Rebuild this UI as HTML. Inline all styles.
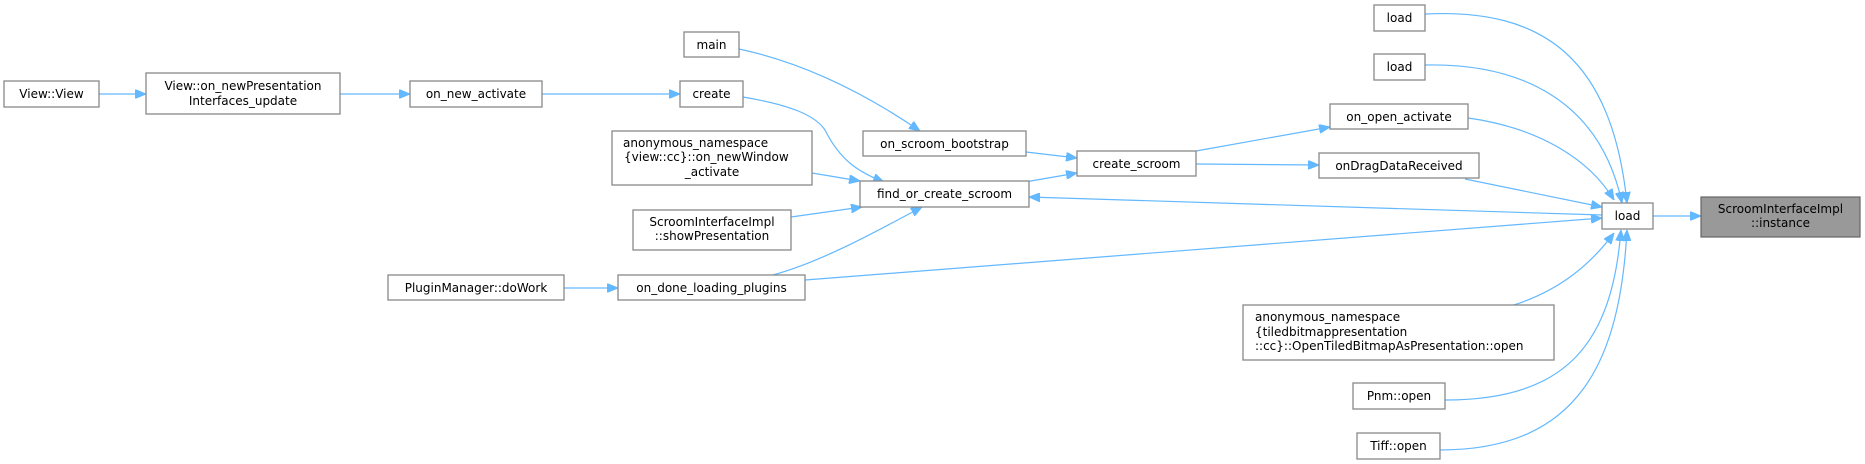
<!DOCTYPE html>
<html><head><meta charset="utf-8"><style>
html,body{margin:0;padding:0;background:#fff;}
svg{display:block;}
text{font-family:"DejaVu Sans","Liberation Sans",sans-serif;font-size:12px;fill:#000;}
.b{fill:#fff;stroke:#888;stroke-width:1.3;}
.e{fill:none;stroke:#63b8ff;stroke-width:1.2;}
</style></head><body>
<svg width="1865" height="464" viewBox="0 0 1865 464" xmlns="http://www.w3.org/2000/svg">
<defs>
<marker id="a" viewBox="0 0 11 9" refX="11" refY="4.5" markerWidth="11" markerHeight="9" markerUnits="userSpaceOnUse" orient="auto">
<path d="M0,0 L11,4.5 L0,9 z" fill="#63b8ff" stroke="#63b8ff"/>
</marker>
</defs>
<g class="e" marker-end="url(#a)">
<path d="M99,94 L146,94"/>
<path d="M340,94 L410,94"/>
<path d="M542,94 L680,94"/>
<path d="M743,97 C790,105 815,115 825,130 C840,160 858,172 884,182"/>
<path d="M739,49 C800,62 860,90 920,131"/>
<path d="M1026,152 L1077,158"/>
<path d="M812,173 L860,181"/>
<path d="M791,217 L862,207"/>
<path d="M773,275 C820,262 870,235 922,207"/>
<path d="M564,288 L618,288"/>
<path d="M1025,182 L1077,173"/>
<path d="M1196,151 L1330,127"/>
<path d="M1196,164 L1319,165"/>
<path d="M1602,215 L1029,197"/>
<path d="M805,280 L1602,218"/>
<path d="M1425,14 C1545,8 1612,60 1627,203"/>
<path d="M1425,65 C1520,63 1600,100 1622,203"/>
<path d="M1468,118 C1540,128 1590,160 1614,200"/>
<path d="M1465,179 L1602,207"/>
<path d="M1514,305 C1560,290 1590,265 1614,233"/>
<path d="M1445,400 C1570,400 1612,340 1621,230"/>
<path d="M1440,450 C1580,450 1620,360 1627,230"/>
<path d="M1653,216 L1701,216"/>
</g>
<g>
<rect class="b" x="4" y="81" width="95" height="26"/><text x="51.5" y="98" text-anchor="middle">View::View</text>
<rect class="b" x="146" y="73" width="194" height="41"/><text x="243" y="90" text-anchor="middle">View::on_newPresentation</text><text x="243" y="105" text-anchor="middle">Interfaces_update</text>
<rect class="b" x="410" y="81" width="132" height="26"/><text x="476" y="98" text-anchor="middle">on_new_activate</text>
<rect class="b" x="684" y="32" width="55" height="25"/><text x="711.5" y="49" text-anchor="middle">main</text>
<rect class="b" x="680" y="81" width="63" height="26"/><text x="711.5" y="98" text-anchor="middle">create</text>
<rect class="b" x="612" y="131" width="200" height="54"/><text x="623" y="147">anonymous_namespace</text><text x="624" y="161">{view::cc}::on_newWindow</text><text x="712" y="176" text-anchor="middle">_activate</text>
<rect class="b" x="633" y="210" width="158" height="40"/><text x="712" y="226" text-anchor="middle">ScroomInterfaceImpl</text><text x="712" y="240" text-anchor="middle">::showPresentation</text>
<rect class="b" x="388" y="275" width="176" height="25"/><text x="476" y="292" text-anchor="middle">PluginManager::doWork</text>
<rect class="b" x="618" y="275" width="187" height="25"/><text x="711.5" y="292" text-anchor="middle">on_done_loading_plugins</text>
<rect class="b" x="863" y="131" width="163" height="25"/><text x="944.5" y="148" text-anchor="middle">on_scroom_bootstrap</text>
<rect class="b" x="860" y="181" width="169" height="26"/><text x="944.5" y="198" text-anchor="middle">find_or_create_scroom</text>
<rect class="b" x="1077" y="151" width="119" height="25"/><text x="1136.5" y="168" text-anchor="middle">create_scroom</text>
<rect class="b" x="1374" y="5" width="51" height="26"/><text x="1399.5" y="22" text-anchor="middle">load</text>
<rect class="b" x="1374" y="54" width="51" height="26"/><text x="1399.5" y="71" text-anchor="middle">load</text>
<rect class="b" x="1330" y="104" width="138" height="25"/><text x="1399" y="121" text-anchor="middle">on_open_activate</text>
<rect class="b" x="1319" y="153" width="160" height="25"/><text x="1399" y="170" text-anchor="middle">onDragDataReceived</text>
<rect class="b" x="1243" y="305" width="311" height="55"/><text x="1255" y="321">anonymous_namespace</text><text x="1255" y="336">{tiledbitmappresentation</text><text x="1255" y="350">::cc}::OpenTiledBitmapAsPresentation::open</text>
<rect class="b" x="1353" y="383" width="92" height="26"/><text x="1399" y="400" text-anchor="middle">Pnm::open</text>
<rect class="b" x="1357" y="433" width="83" height="26"/><text x="1398.5" y="450" text-anchor="middle">Tiff::open</text>
<rect class="b" x="1602" y="203" width="51" height="26"/><text x="1627.5" y="220" text-anchor="middle">load</text>
<rect x="1701" y="197" width="159" height="40" fill="#999" stroke="#666" stroke-width="1.2"/><text x="1780.5" y="213" text-anchor="middle">ScroomInterfaceImpl</text><text x="1780.5" y="227" text-anchor="middle">::instance</text>
</g>
</svg>
</body></html>
